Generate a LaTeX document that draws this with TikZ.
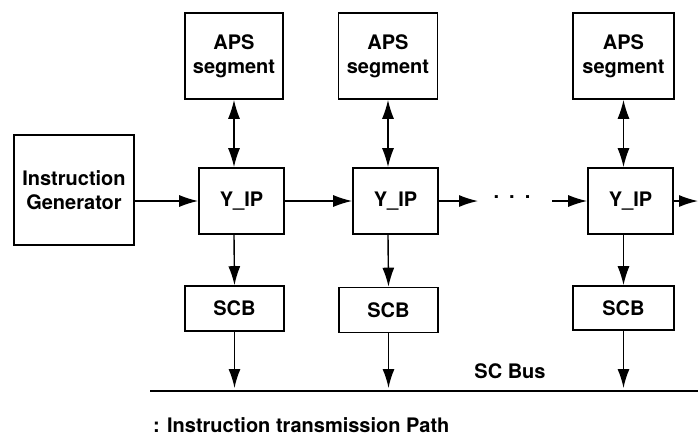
\documentclass[tikz,border=0pt]{standalone}
\usepackage{fontspec}
\setmainfont{TeX Gyre Heros}
\usetikzlibrary{arrows.meta}
\tikzset{
	block/.style={draw, line width=0.8pt, align=center, inner sep=0pt, font=\fontsize{10}{12}\selectfont\bfseries},
	flow/.style={-{Latex[length=9.5pt,width=6pt]}, line width=0.7pt},
	both/.style={{Latex[length=9.5pt,width=6pt]}-{Latex[length=9.5pt,width=6pt]}, line width=0.7pt}
}

\begin{document}
\begin{tikzpicture}[x=0.5pt,y=-0.5pt]
	\useasboundingbox (0,0) rectangle (698,436);

	% generator
	\node[block, minimum width=60pt, minimum height=55pt] (gen) at (74,190) {Instruction\\Generator};

	% APS segments
	\node[block, minimum width=49pt, minimum height=43pt] (aps1) at (234,56) {APS\\segment};
	\node[block, minimum width=49.5pt, minimum height=43pt] (aps2) at (388,56) {APS\\segment};
	\node[block, minimum width=50.5pt, minimum height=43pt] (aps3) at (623.5,56) {APS\\segment};

	% Y_IP units
	\node[block, minimum width=42.5pt, minimum height=33pt] (yip1) at (241.5,201) {Y\_IP};
	\node[block, minimum width=42.5pt, minimum height=33pt] (yip2) at (395.5,201) {Y\_IP};
	\node[block, minimum width=42.5pt, minimum height=33pt] (yip3) at (630.5,201) {Y\_IP};

	% SCB units
	\node[block, minimum width=49.5pt, minimum height=22.5pt] (scb1) at (234.5,308.5) {SCB};
	\node[block, minimum width=49.5pt, minimum height=22.5pt] (scb2) at (388.5,310) {SCB};
	\node[block, minimum width=50.5pt, minimum height=22pt] (scb3) at (623.5,308) {SCB};

	% bus
	\coordinate (busL) at (150,391);
	\coordinate (busR) at (698,391);
	\draw[line width=0.7pt] (busL) -- (busR);
	\node[font=\fontsize{10}{12}\selectfont\bfseries] (busname) at (510,371) {SC Bus};

	% instruction path
	\draw[flow] (gen.east |- yip1.west) -- (yip1.west);
	\draw[flow] (yip1.east) -- (yip2.west);
	\coordinate (gap1) at (478,201);
	\coordinate (gap2) at (552,201);
	\coordinate (out) at (698,201);
	\draw[flow] (yip2.east) -- (gap1);
	\node[font=\fontsize{10}{12}\selectfont\bfseries] (dots) at (512,197) {.\hspace{5pt}.\hspace{5pt}.};
	\draw[flow] (gap2) -- (yip3.west);
	\draw[flow] (yip3.east) -- (out);

	% segments and bus links
	\foreach \i in {1,2,3}{
		\draw[both] (aps\i.south) -- (aps\i.south |- yip\i.north);
		\draw[flow] (aps\i.south |- yip\i.south) -- (scb\i.north);
		\draw[flow] (scb\i.south) -- ([yshift=1.5pt]scb\i.south |- busL);
	}

	\node[anchor=west, font=\fontsize{10}{12}\selectfont\bfseries] (legend) at (146,425) {: Instruction transmission Path};
\end{tikzpicture}
\end{document}
